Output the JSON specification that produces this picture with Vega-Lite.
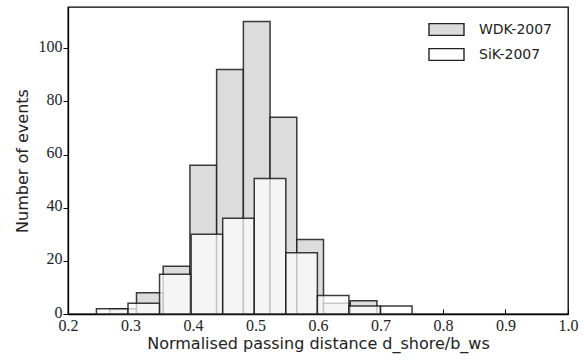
{
  "$schema": "https://vega.github.io/schema/vega-lite/v6.json",
  "width": 500,
  "height": 307,
  "autosize": "none",
  "padding": {"left": 68, "top": 7, "right": 16, "bottom": 48},
  "background": "white",
  "config": {
    "view": {"stroke": "black", "strokeWidth": 1.3},
    "axis": {
      "grid": false,
      "domainColor": "black",
      "domainWidth": 1.3,
      "tickColor": "black",
      "tickWidth": 1,
      "labelColor": "#222",
      "titleColor": "#222",
      "labelFont": "Liberation Serif",
      "labelFontSize": 16,
      "titleFont": "DejaVu Sans",
      "titleFontSize": 16,
      "titleFontWeight": "normal",
      "labelFlush": false,
      "labelOverlap": false
    }
  },
  "data": {
    "values": [
      {"series": "WDK-2007", "start": 0.2668, "end": 0.3096, "count": 2},
      {"series": "WDK-2007", "start": 0.3096, "end": 0.3523, "count": 8},
      {"series": "WDK-2007", "start": 0.3523, "end": 0.3951, "count": 18},
      {"series": "WDK-2007", "start": 0.3951, "end": 0.4378, "count": 56},
      {"series": "WDK-2007", "start": 0.4378, "end": 0.4806, "count": 92},
      {"series": "WDK-2007", "start": 0.4806, "end": 0.5233, "count": 110},
      {"series": "WDK-2007", "start": 0.5233, "end": 0.5661, "count": 74},
      {"series": "WDK-2007", "start": 0.5661, "end": 0.6088, "count": 28},
      {"series": "WDK-2007", "start": 0.6088, "end": 0.6516, "count": 4},
      {"series": "WDK-2007", "start": 0.6516, "end": 0.6943, "count": 5},
      {"series": "SiK-2007", "start": 0.2455, "end": 0.2960, "count": 2},
      {"series": "SiK-2007", "start": 0.2960, "end": 0.3465, "count": 4},
      {"series": "SiK-2007", "start": 0.3465, "end": 0.3970, "count": 15},
      {"series": "SiK-2007", "start": 0.3970, "end": 0.4475, "count": 30},
      {"series": "SiK-2007", "start": 0.4475, "end": 0.4980, "count": 36},
      {"series": "SiK-2007", "start": 0.4980, "end": 0.5485, "count": 51},
      {"series": "SiK-2007", "start": 0.5485, "end": 0.5990, "count": 23},
      {"series": "SiK-2007", "start": 0.5990, "end": 0.6495, "count": 7},
      {"series": "SiK-2007", "start": 0.6495, "end": 0.7000, "count": 3},
      {"series": "SiK-2007", "start": 0.7000, "end": 0.7505, "count": 3}
    ]
  },
  "mark": {"type": "bar", "stroke": "#1a1a1a", "strokeWidth": 1.5, "strokeOpacity": 0.85},
  "encoding": {
    "x": {
      "field": "start",
      "type": "quantitative",
      "scale": {"domain": [0.2, 1.0], "nice": false, "zero": false},
      "axis": {
        "values": [0.2, 0.3, 0.4, 0.5, 0.6, 0.7, 0.8, 0.9, 1.0],
        "format": ".1f",
        "tickSize": -5,
        "labelPadding": 8,
        "titlePadding": 2,
        "title": "Normalised passing distance d_shore/b_ws"
      }
    },
    "x2": {"field": "end"},
    "y": {
      "field": "count",
      "type": "quantitative",
      "scale": {"domain": [0, 115.5], "nice": false},
      "axis": {
        "values": [0, 20, 40, 60, 80, 100],
        "tickSize": 5,
        "labelPadding": 1,
        "labelOffset": -2,
        "titlePadding": 8,
        "title": "Number of events"
      }
    },
    "y2": {"datum": 0},
    "fill": {
      "field": "series",
      "type": "nominal",
      "scale": {"domain": ["WDK-2007", "SiK-2007"], "range": ["#dcdcdc", "#ffffff"]},
      "legend": {
        "title": null,
        "orient": "none",
        "legendX": 366,
        "legendY": 10,
        "padding": 0,
        "symbolType": "M-1.5,-0.5H1.5V0.5H-1.5Z",
        "symbolSize": 544,
        "symbolStrokeColor": "#222",
        "symbolStrokeWidth": 1.4,
        "symbolOpacity": 1,
        "labelFont": "DejaVu Sans",
        "labelFontSize": 14,
        "labelColor": "#222",
        "labelOffset": 20,
        "rowPadding": 3
      }
    },
    "fillOpacity": {
      "field": "series",
      "type": "nominal",
      "scale": {"domain": ["WDK-2007", "SiK-2007"], "range": [1, 0.72]},
      "legend": null
    }
  }
}
